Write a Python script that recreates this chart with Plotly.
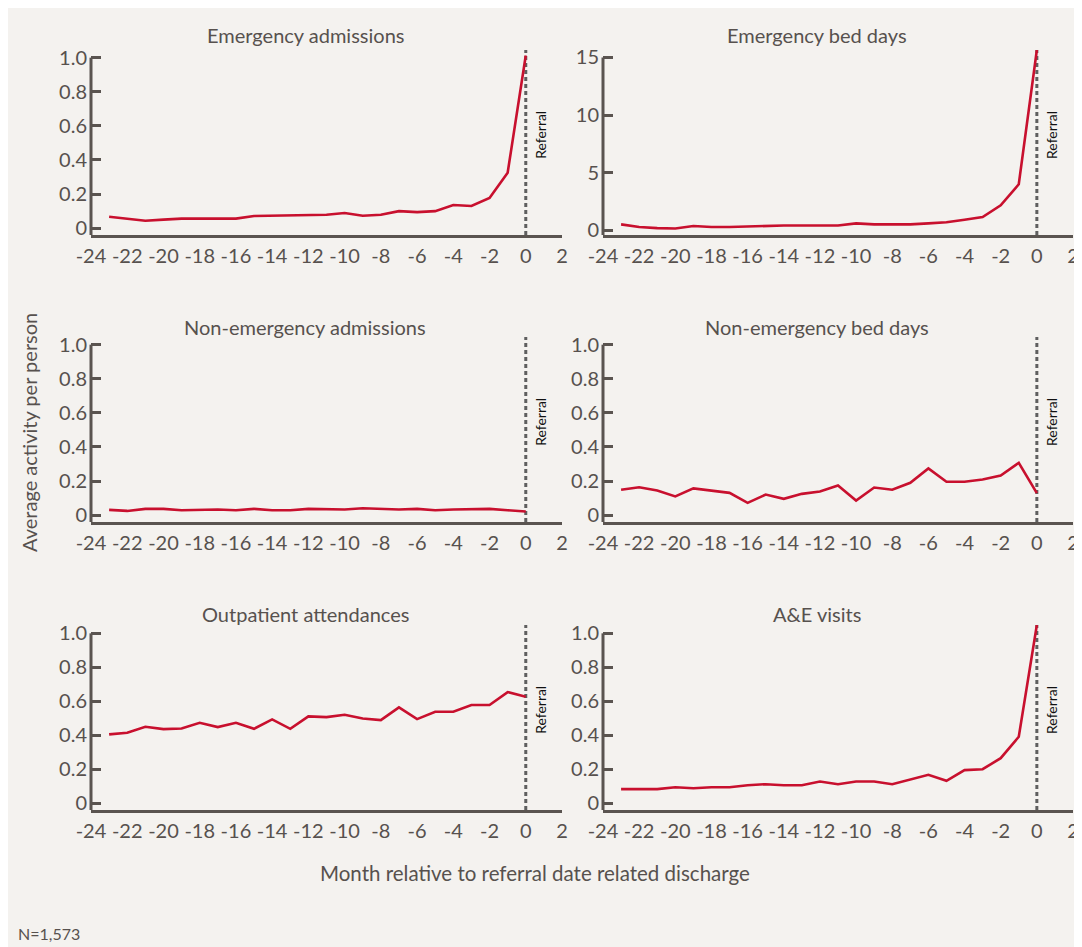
import plotly.graph_objects as go

# ---------------- data ----------------
months = list(range(-23, 1))

emergency_admissions = [0.067, 0.056, 0.044, 0.050, 0.056, 0.056, 0.056, 0.056,
                        0.071, 0.073, 0.079, 0.079, 0.079, 0.089, 0.073, 0.079,
                        0.100, 0.094, 0.100, 0.136, 0.130, 0.177, 0.325, 1.013]
emergency_bed_days = [0.52, 0.29, 0.20, 0.17, 0.38, 0.29, 0.29, 0.35,
                      0.43, 0.43, 0.43, 0.43, 0.43, 0.61, 0.52, 0.52,
                      0.52, 0.61, 0.70, 0.93, 1.16, 2.17, 4.00, 15.65]
non_emergency_admissions = [0.031, 0.025, 0.037, 0.037, 0.029, 0.033, 0.033, 0.029,
                            0.037, 0.029, 0.029, 0.037, 0.033, 0.033, 0.041, 0.037,
                            0.033, 0.037, 0.029, 0.033, 0.037, 0.037, 0.029, 0.022]
non_emergency_bed_days = [0.149, 0.164, 0.145, 0.110, 0.157, 0.145, 0.131, 0.072,
                          0.121, 0.096, 0.125, 0.139, 0.174, 0.086, 0.162, 0.149,
                          0.190, 0.274, 0.196, 0.196, 0.209, 0.233, 0.307, 0.129]
outpatient_attendances = [0.405, 0.415, 0.450, 0.436, 0.440, 0.473, 0.448, 0.473,
                          0.438, 0.493, 0.438, 0.511, 0.507, 0.521, 0.499, 0.489,
                          0.564, 0.495, 0.538, 0.538, 0.578, 0.578, 0.654, 0.627]
ae_visits = [0.083, 0.083, 0.083, 0.094, 0.088, 0.094, 0.094, 0.106,
             0.112, 0.106, 0.106, 0.128, 0.112, 0.128, 0.128, 0.112,
             0.141, 0.167, 0.132, 0.195, 0.200, 0.265, 0.391, 1.049]

titles = ["Emergency admissions", "Emergency bed days",
          "Non-emergency admissions", "Non-emergency bed days",
          "Outpatient attendances", "A&E visits"]

x_tickvals = list(range(-24, 3, 2))
x_ticktext = ["-24", "-22", "-20", "-18", "-16", "-14", "-12", "-10",
              "-8", "-6", "-4", "-2", "0", "2"]
unit_tickvals = [0, 0.2, 0.4, 0.6, 0.8, 1.0]
unit_ticktext = ["0", "0.2", "0.4", "0.6", "0.8", "1.0"]
bed_tickvals = [0, 5, 10, 15]
bed_ticktext = ["0", "5", "10", "15"]

referral_month = 0
y_title = "Average activity per person"
x_title = "Month relative to referral date related discharge"
note = "N=1,573"

# ---------------- style ----------------
BG = "#f4f2ef"
TXT = "#57514e"
AX = "#5a5450"
RED = "#c8102e"
FONT = "Lato, 'Open Sans', sans-serif"

series = [emergency_admissions, emergency_bed_days, non_emergency_admissions,
          non_emergency_bed_days, outpatient_attendances, ae_visits]
ticks = [(unit_tickvals, unit_ticktext), (bed_tickvals, bed_ticktext),
         (unit_tickvals, unit_ticktext), (unit_tickvals, unit_ticktext),
         (unit_tickvals, unit_ticktext), (unit_tickvals, unit_ticktext)]
yranges = [(-0.04, 1.045), (-0.4, 15.65), (-0.04, 1.045), (-0.04, 1.045),
           (-0.04, 1.049), (-0.04, 1.049)]

W, H = 1082, 947
OX, OY = 8, 8  # page offset of the figure


def fx(sx):
    return (sx - OX) / W


def fy(sy):
    return 1 - (sy - OY) / H


x_domains = [(fx(91), fx(562)), (fx(603), fx(1073))]
y_domains = [(fy(235), fy(50)), (fy(522), fy(337)), (fy(810), fy(625))]
title_x = [fx(305), fx(817)]
title_y = [fy(35), fy(327), fy(614)]

fig = go.Figure()
layout = dict(
    width=W, height=H, autosize=False,
    paper_bgcolor=BG, plot_bgcolor=BG,
    margin=dict(l=0, r=0, t=0, b=0, pad=0, autoexpand=False),
    showlegend=False,
    font=dict(family=FONT, color=TXT, size=20),
)
shapes = []
annotations = []

for i, (title, vals) in enumerate(zip(titles, series)):
    row, col = divmod(i, 2)
    n = i + 1
    xa = "x" if n == 1 else f"x{n}"
    ya = "y" if n == 1 else f"y{n}"
    fig.add_trace(go.Scatter(x=months, y=vals, mode="lines", xaxis=xa, yaxis=ya,
                             line=dict(color=RED, width=2.6), hoverinfo="x+y"))
    tv, tt = ticks[i]
    layout[f"xaxis{'' if n == 1 else n}"] = dict(
        domain=list(x_domains[col]), anchor=ya, range=[-24, 2], automargin=False,
        tickvals=x_tickvals, ticktext=x_ticktext, ticks="",
        showline=True, linecolor=AX, linewidth=3, showgrid=False, zeroline=False,
        tickfont=dict(size=20, color=TXT), ticklabelstandoff=1,
    )
    layout[f"yaxis{'' if n == 1 else n}"] = dict(
        domain=list(y_domains[row]), anchor=xa, range=list(yranges[i]), automargin=False,
        tickvals=tv, ticktext=tt, ticks="inside", ticklen=10, tickwidth=2.5,
        tickcolor=AX, showline=False, showgrid=False, zeroline=False,
        tickfont=dict(size=20, color=TXT), ticklabelstandoff=3,
    )
    # y axis line (from bottom of axis to top tick)
    shapes.append(dict(type="line", xref=f"{xa} domain", yref=ya,
                       x0=0, x1=0, y0=yranges[i][0], y1=tv[-1],
                       line=dict(color=AX, width=3)))
    # referral dashed line
    shapes.append(dict(type="line", xref=xa, yref=f"{ya} domain",
                       x0=referral_month, x1=referral_month, y0=0, y1=1,
                       line=dict(color="#5f5f5f", width=3, dash="4px,3px"),
                       layer="below"))
    annotations.append(dict(text="Referral", xref=xa, yref=f"{ya} domain",
                            x=referral_month, y=0.54, xshift=14, textangle=-90,
                            showarrow=False, font=dict(size=14, color="#111111"),
                            xanchor="center", yanchor="middle"))
    annotations.append(dict(text=title, xref="paper", yref="paper",
                            x=title_x[col], y=title_y[row], showarrow=False,
                            xanchor="center", yanchor="middle",
                            font=dict(size=20, color=TXT)))

annotations.append(dict(text=y_title, xref="paper", yref="paper", x=fx(29), y=fy(433),
                        textangle=-90, showarrow=False, xanchor="center", yanchor="middle",
                        font=dict(size=20, color=TXT)))
annotations.append(dict(text=x_title, xref="paper", yref="paper", x=fx(535), y=fy(873),
                        showarrow=False, xanchor="center", yanchor="middle",
                        font=dict(size=20.5, color=TXT)))
annotations.append(dict(text=note, xref="paper", yref="paper", x=fx(16), y=fy(933),
                        showarrow=False, xanchor="left", yanchor="middle",
                        font=dict(size=16, color=TXT)))

layout["shapes"] = shapes
layout["annotations"] = annotations
fig.update_layout(**layout)
fig.write_html("out.html", post_script="document.body.style.overflow='hidden';")
